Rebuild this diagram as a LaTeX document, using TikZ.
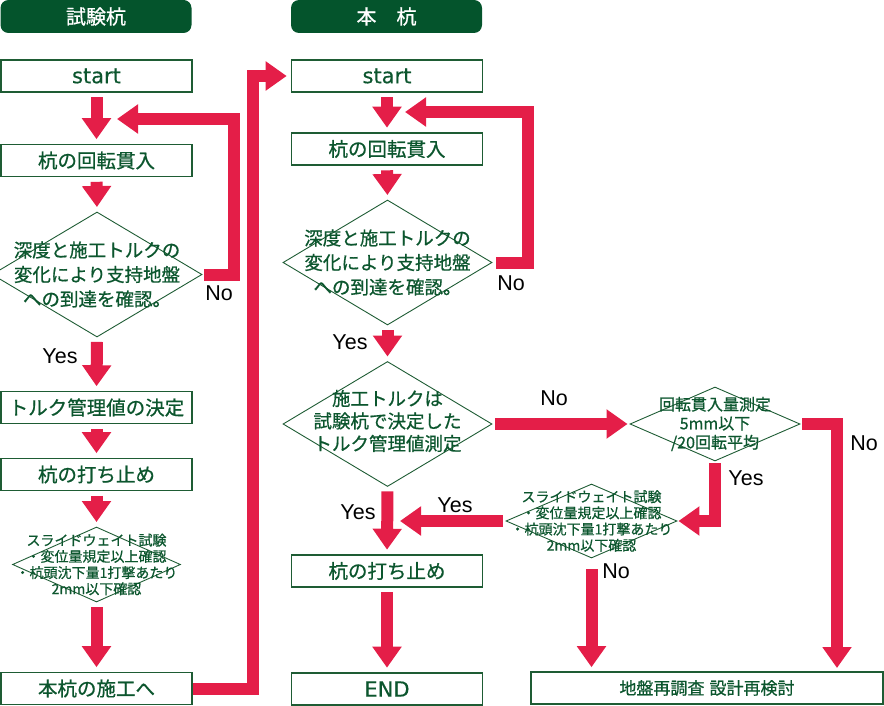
\documentclass[tikz,border=0pt]{standalone}
\usepackage{fontspec}
\setmainfont{Noto Sans CJK JP}[FakeBold=0.7]
\newfontfamily\latinfont{DejaVu Sans}[FakeBold=0.4]
\newfontfamily\labelfont{Liberation Sans}
\definecolor{headGreen}{RGB}{4, 84, 44}
\definecolor{lineGreen}{RGB}{30, 92, 52}
\definecolor{textGreen}{RGB}{12, 86, 46}
\definecolor{flowRed}{RGB}{228, 30, 72}
\usepackage{tikz}
\usetikzlibrary{shapes.geometric,arrows.meta,positioning,calc}

\tikzset{
    procbox/.style={draw=lineGreen,line width=1.6pt,fill=white,minimum width=191pt,minimum height=32pt,inner sep=0pt,text=textGreen,font=\fontsize{19.5}{22}\selectfont},
    header/.style={fill=headGreen,rounded corners=8pt,minimum width=191pt,minimum height=33pt,inner sep=0pt,text=white,font=\fontsize{20}{24}\selectfont},
    decision/.style={diamond,draw=lineGreen,line width=0.9pt,inner sep=0pt},
    dectext/.style={align=center,text=textGreen,inner sep=0pt},
    flow/.style={draw=flowRed,line width=12pt,-{Triangle[width=28pt,length=21pt]}},
    yesno/.style={font=\labelfont\fontsize{21.5}{24}\selectfont,text=black,inner sep=0pt}
}

\begin{document}
\begin{tikzpicture}[x=1pt,y=-1pt]
                \useasboundingbox (0,0) rectangle (884,706);

                % Column headers
                \node[header] (hdrL) at (96,16.5) {試験杭};
                \node[header] (hdrR) at (386.5,16.5) {本　杭};

                % Process boxes
                \node[procbox,font=\latinfont\fontsize{21}{24}\selectfont] (startL) at (96.5,76) {start};
                \node[procbox,font=\latinfont\fontsize{21}{24}\selectfont] (startR) at (387,76) {start};
                \node[procbox,font=\latinfont\fontsize{21}{24}\selectfont] (endR) at (387,689) {END};
                \foreach \name/\x/\y/\txt in {penL/96.5/160.5/杭の回転貫入, torqL/96.5/407.5/トルク管理値の決定,
                        stopL/96.5/474.5/杭の打ち止め, nextL/96.5/688.5/本杭の施工へ,
                        penR/387/149/杭の回転貫入, stopR/387/571/杭の打ち止め} {
                    \node[procbox] (\name) at (\x,\y) {\txt};
                }
                \node[procbox,minimum width=352pt,font=\fontsize{17}{20}\selectfont] (redo) at (707,688) {地盤再調査\hspace{0.3em}設計再検討};

                % Decisions
                \node[decision,minimum width=210pt,minimum height=125pt] (decL) at (97,274.5) {};
                \node[dectext,font=\fontsize{18.5}{24.5}\selectfont] (decLt) at (decL) {深度と施工トルクの\\変化により支持地盤\\への到達を確認。};
                \node[decision,minimum width=168pt,minimum height=75pt] (swL) at (96.5,564.5) {};
                \node[dectext,font=\fontsize{14}{16.2}\selectfont] (swLt) at (swL) {スライドウェイト試験\\・変位量規定以上確認\\・杭頭沈下量1打撃あたり\\2mm以下確認};
                \node[decision,minimum width=209pt,minimum height=125pt] (decR) at (387.5,262.5) {};
                \node[dectext,font=\fontsize{18.5}{24.5}\selectfont] (decRt) at (decR) {深度と施工トルクの\\変化により支持地盤\\への到達を確認。};
                \node[decision,minimum width=209pt,minimum height=125pt] (chkR) at (387.5,424) {};
                \node[dectext,font=\fontsize{18.5}{22.5}\selectfont] (chkRt) at ($(chkR)+(0,-3)$) {施工トルクは\\試験杭で決定した\\トルク管理値測定};
                \node[decision,minimum width=170pt,minimum height=74pt] (meas) at (715,424) {};
                \node[dectext,font=\fontsize{16}{19}\selectfont] (meast) at (meas) {回転貫入量測定\\5mm以下\\/20回転平均};
                \node[decision,minimum width=171pt,minimum height=74pt] (swR) at (591.5,521) {};
                \node[dectext,font=\fontsize{14}{16.2}\selectfont] (swRt) at (swR) {スライドウェイト試験\\・変位量規定以上確認\\・杭頭沈下量1打撃あたり\\2mm以下確認};

                % Merge points
                \coordinate (mergeL) at (117,119);
                \coordinate (mergeR) at (405,112);
                \coordinate (mergeS) at (400,521);
                \coordinate (redoNo) at (837,672);

                % Main flow
                \foreach \a/\b in {startL/penL, penL/decL, decL/torqL, torqL/stopL, stopL/swL, swL/nextL,
                        startR/penR, penR/decR, decR/chkR, chkR/stopR, stopR/endR} {
                    \draw[flow,shorten <=4.5pt,shorten >=4.5pt] (\a.south) -- (\b.north);
                }

                % Loops and branches
                \draw[flow,shorten <=2pt] (decL.east) -- ++(32,0) |- (mergeL);
                \draw[flow,shorten >=4pt] (nextL.east) -- ++(60,0) |- (startR.west);
                \draw[flow,shorten <=4pt] (decR.east) -- ++(36,0) |- (mergeR);
                \draw[flow,shorten <=3pt,shorten >=2pt] (chkR.east) -- (meas.west);
                \draw[flow,shorten <=2pt,shorten >=4pt] (meas.east) -| (redoNo);
                \draw[flow,shorten <=2pt,shorten >=1pt] (meas.south) |- (swR.east);
                \draw[flow,shorten <=3pt] (swR.west) -- (mergeS);
                \draw[flow,shorten <=11pt,shorten >=4pt] (swR.south) -- (swR.south |- redo.north);

                % Yes / No labels
                \node[yesno] (noL) at (219,293) {No};
                \node[yesno] (yesL) at (60,356) {Yes};
                \node[yesno] (noR) at (511,283) {No};
                \node[yesno] (yesR) at (350,342) {Yes};
                \node[yesno] (yesR2) at (358,512) {Yes};
                \node[yesno] (noChk) at (554,398) {No};
                \node[yesno] (noMeas) at (864,443) {No};
                \node[yesno] (yesMeas) at (746,478) {Yes};
                \node[yesno] (yesSw) at (455,505) {Yes};
                \node[yesno] (noSw) at (616,571) {No};
            \end{tikzpicture}
\end{document}
